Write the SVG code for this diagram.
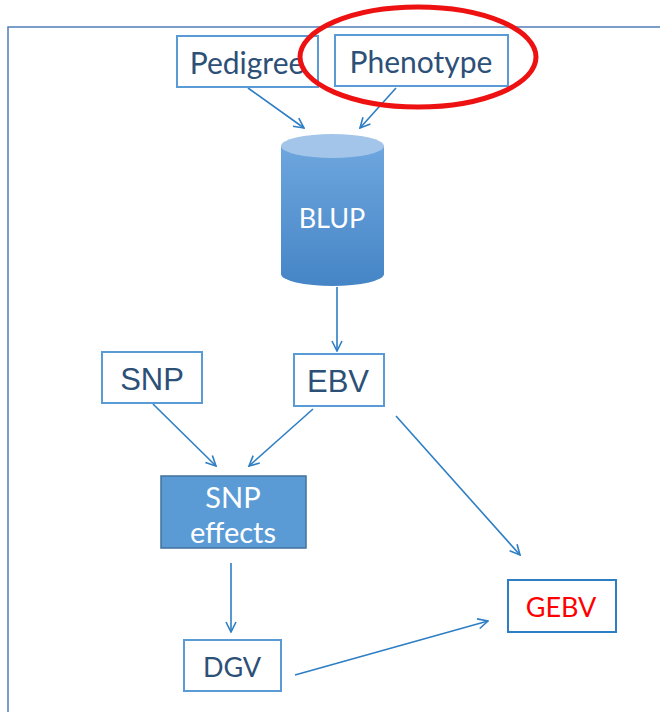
<svg xmlns="http://www.w3.org/2000/svg" width="660" height="712" viewBox="0 0 660 712">
  <style>
    .box { fill: #ffffff; stroke: #5b9bd5; stroke-width: 2; }
    .lbl { font-family: Lato, "Open Sans", "Liberation Sans", sans-serif; font-size: 27px; fill: #2c5077; text-anchor: middle; dominant-baseline: central; }
    .big { font-size: 30px; }
    .arial { font-family: "Liberation Sans", Arial, sans-serif; font-size: 31px; }
    .white { fill: #ffffff; }
    .conn { stroke: #2e7ec4; stroke-width: 1.6; fill: none; marker-end: url(#vhead); }
  </style>
  <defs>
    <marker id="vhead" viewBox="0 0 12 12" refX="11" refY="6" markerWidth="12" markerHeight="12" markerUnits="userSpaceOnUse" orient="auto">
      <polyline points="1,1 11,6 1,11" fill="none" stroke="#2e7ec4" stroke-width="1.6"/>
    </marker>
    <linearGradient id="cylBody" x1="0" y1="0" x2="0" y2="1">
      <stop offset="0" stop-color="#6ea6de"/>
      <stop offset="1" stop-color="#4585c6"/>
    </linearGradient>
  </defs>

  <rect width="660" height="712" fill="#ffffff"/>
  <!-- outer frame -->
  <rect x="8" y="27" width="700" height="720" fill="none" stroke="#4f7fb8" stroke-width="1.5"/>

  <g id="connectors">
    <line class="conn" x1="248" y1="88" x2="304" y2="128"/>
    <line class="conn" x1="396" y1="88" x2="360" y2="128"/>
    <line class="conn" x1="337" y1="287" x2="337" y2="351"/>
    <line class="conn" x1="153" y1="404" x2="216" y2="466"/>
    <line class="conn" x1="313" y1="409" x2="249" y2="466"/>
    <line class="conn" x1="396" y1="416" x2="520" y2="555"/>
    <line class="conn" x1="231" y1="563" x2="231" y2="632"/>
    <line class="conn" x1="295" y1="675" x2="488" y2="621"/>
  </g>

  <g id="pedigree">
    <rect class="box" x="177" y="36" width="141" height="51"/>
    <text class="lbl big" x="247" y="62">Pedigree</text>
  </g>

  <g id="phenotype">
    <rect class="box" x="335" y="35" width="173" height="51"/>
    <text class="lbl big" x="421" y="61">Phenotype</text>
  </g>

  <!-- red highlight around Phenotype -->
  <ellipse cx="418" cy="57" rx="118" ry="50" fill="none" stroke="#ee1111" stroke-width="5"/>

  <g id="blup">
    <path d="M281,146 L281,274 A51.5,12 0 0 0 384,274 L384,146 Z" fill="url(#cylBody)"/>
    <ellipse cx="332.5" cy="146" rx="51.5" ry="12" fill="#a3c5e9"/>
    <text class="lbl white" x="332" y="217">BLUP</text>
  </g>

  <g id="snp">
    <rect class="box" x="102" y="352" width="100" height="51"/>
    <text class="lbl arial" x="152" y="379">SNP</text>
  </g>

  <g id="ebv">
    <rect class="box" x="294" y="354" width="90" height="52"/>
    <text class="lbl arial" x="338" y="381">EBV</text>
  </g>

  <g id="snp-effects">
    <rect x="161" y="476" width="145" height="72" fill="#5b9bd5" stroke="#41719c" stroke-width="1.5"/>
    <text class="lbl white" x="233" y="496" style="font-size:29px">SNP</text>
    <text class="lbl white" x="233" y="531" style="font-size:29px">effects</text>
  </g>

  <g id="dgv">
    <rect class="box" x="184" y="640" width="97" height="51"/>
    <text class="lbl" x="232" y="666">DGV</text>
  </g>

  <g id="gebv">
    <rect x="508" y="580" width="108" height="52" fill="#ffffff" stroke="#2e7ec4" stroke-width="2"/>
    <text class="lbl" x="561" y="606" style="fill:#ff0000">GEBV</text>
  </g>
</svg>
